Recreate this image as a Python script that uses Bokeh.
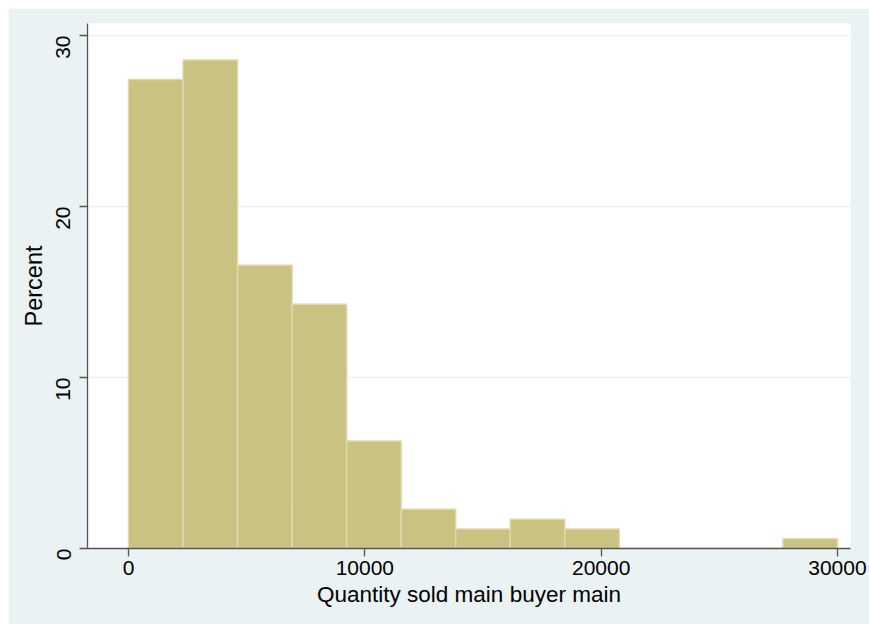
import math

from bokeh.embed import file_html
from bokeh.models import FixedTicker, Range1d
from bokeh.plotting import figure
from bokeh.resources import INLINE

# Histogram of quantity sold to the main buyer: 13 equal-width bins on [0, 30000]
bin_start = 0
bin_end = 30000
percent = [27.43, 28.57, 16.57, 14.29, 6.29, 2.29, 1.14, 1.71, 1.14, 0.0, 0.0, 0.0, 0.57]
x_ticks = [0, 10000, 20000, 30000]
y_ticks = [0, 10, 20, 30]

n_bins = len(percent)
width = (bin_end - bin_start) / n_bins
lefts = [bin_start + i * width for i in range(n_bins)]
rights = [bin_start + (i + 1) * width for i in range(n_bins)]

REGION = "#eaf2f3"
FONT = "Liberation Sans"

p = figure(
    frame_width=763,
    frame_height=525,
    min_border_left=79,
    min_border_right=19,
    min_border_top=15,
    min_border_bottom=76,
    x_range=Range1d(-1735, 30551),
    y_range=Range1d(0, 30.7),
    toolbar_location=None,
    output_backend="svg",
    background_fill_color="white",
    border_fill_color=REGION,
    outline_line_color=None,
)
p.margin = (8, 0, 0, 8)

p.quad(left=lefts, right=rights, bottom=0, top=percent,
       fill_color="#c9c280", line_color="#ddd9ab", line_width=1.5)

# grid
p.xgrid.visible = False
p.ygrid.ticker = FixedTicker(ticks=y_ticks)
p.ygrid.grid_line_color = REGION
p.ygrid.grid_line_width = 1.5

for ax in (p.xaxis[0], p.yaxis[0]):
    ax.axis_line_color = "#555555"
    ax.axis_line_width = 1.3
    ax.major_tick_line_color = "#555555"
    ax.major_tick_line_width = 1.3
    ax.major_tick_out = 8
    ax.major_tick_in = 0
    ax.minor_tick_line_color = None
    ax.major_label_text_font = FONT
    ax.major_label_text_color = "black"
    ax.axis_label_text_font = FONT
    ax.axis_label_text_font_style = "normal"
    ax.axis_label_text_color = "black"

p.xaxis.ticker = FixedTicker(ticks=x_ticks)
p.xaxis.major_label_text_font_size = "21px"
p.xaxis.major_label_standoff = 4
p.xaxis.axis_label = "Quantity sold main buyer main"
p.xaxis.axis_label_text_font_size = "22.5px"
p.xaxis.axis_label_standoff = 4

p.yaxis.ticker = FixedTicker(ticks=y_ticks)
p.yaxis.major_label_orientation = math.pi / 2
p.yaxis.major_label_text_font_size = "21px"
p.yaxis.major_label_standoff = 16
p.yaxis.axis_label = "Percent"
p.yaxis.axis_label_text_font_size = "23.5px"
p.yaxis.axis_label_standoff = 0

open("out.html", "w").write(file_html(p, INLINE))
